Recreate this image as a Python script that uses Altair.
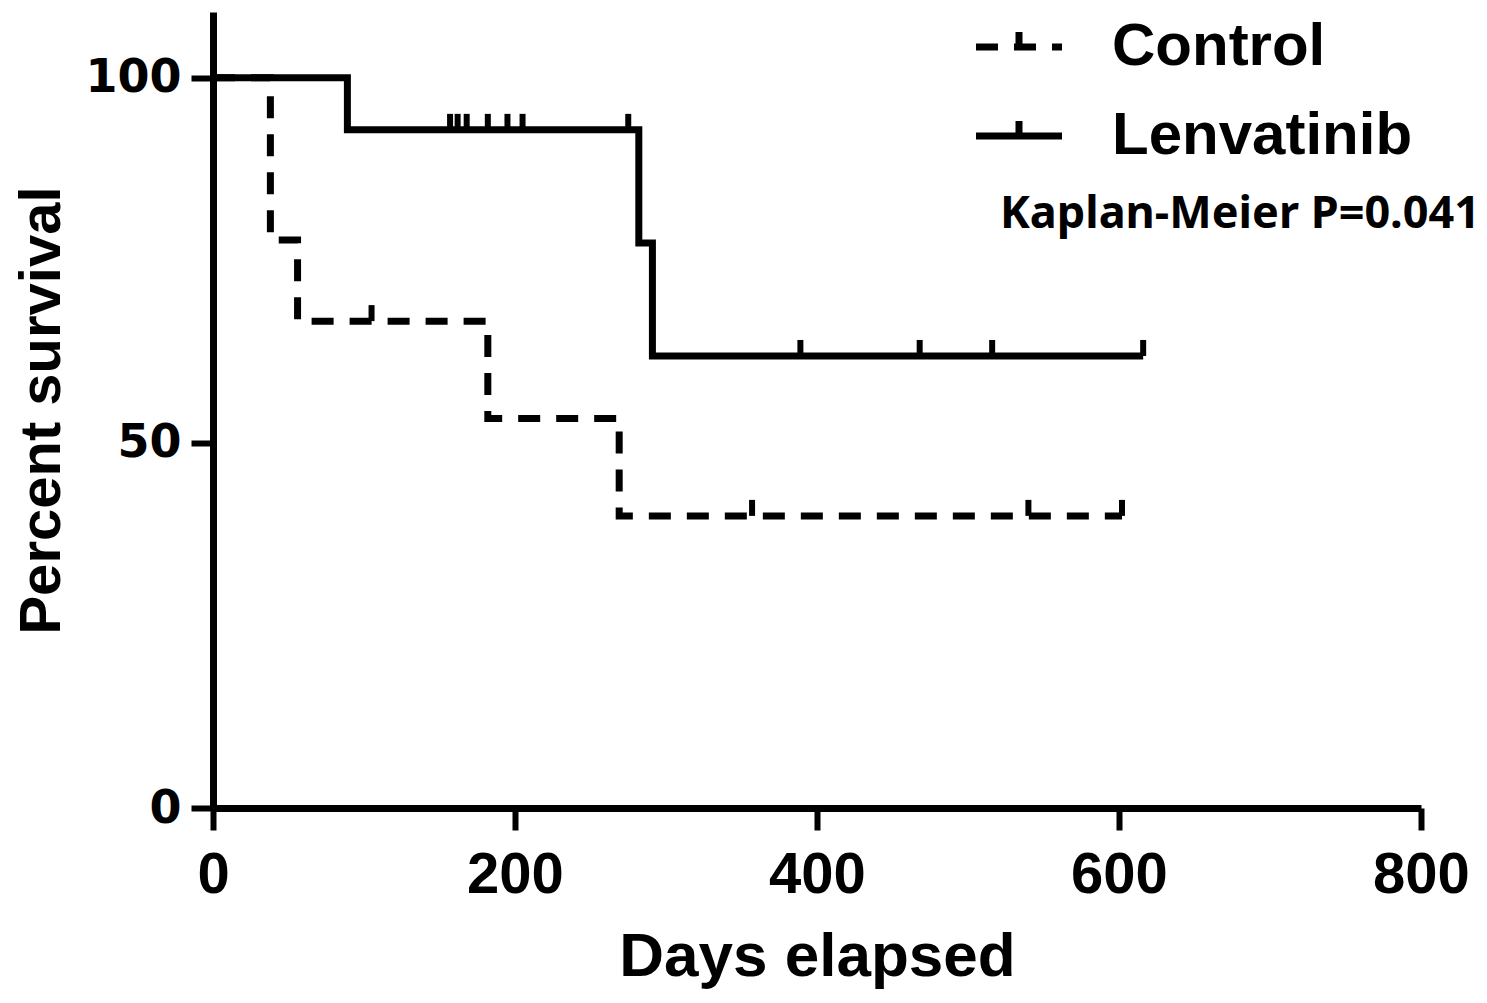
import altair as alt
import pandas as pd

groups = ["Control", "Lenvatinib"]

# Kaplan-Meier step curves
ctrl_step_days = [0, 38, 56, 182, 269, 602]
ctrl_step_surv = [100, 77.78, 66.67, 53.33, 40.0, 40.0]
ctrl_censor_days = [105, 357, 540, 602]
ctrl_censor_surv = [66.67, 40.0, 40.0, 40.0]

lenv_step_days = [0, 89, 282, 291, 616]
lenv_step_surv = [100, 92.86, 77.38, 61.90, 61.90]
lenv_censor_days = [157, 162, 168, 182, 195, 205, 275, 389, 468, 516, 616]
lenv_censor_surv = [92.86, 92.86, 92.86, 92.86, 92.86, 92.86, 92.86, 61.90, 61.90, 61.90, 61.90]

x_ticks = [0, 200, 400, 600, 800]
y_ticks = [0, 50, 100]
note = "Kaplan-Meier P=0.041"

line_df = pd.concat([
    pd.DataFrame({"day": ctrl_step_days, "surv": ctrl_step_surv, "group": "Control"}),
    pd.DataFrame({"day": lenv_step_days, "surv": lenv_step_surv, "group": "Lenvatinib"}),
])
cens_df = pd.concat([
    pd.DataFrame({"day": ctrl_censor_days, "surv": ctrl_censor_surv, "group": "Control"}),
    pd.DataFrame({"day": lenv_censor_days, "surv": lenv_censor_surv, "group": "Lenvatinib"}),
])

xs = alt.Scale(domain=[0, 800], nice=False)
ys = alt.Scale(domain=[0, 109], nice=False)

line = alt.Chart(line_df).mark_line(
    interpolate="step-after", strokeWidth=7, color="black", strokeCap="butt"
).encode(
    x=alt.X("day:Q", scale=xs, axis=alt.Axis(values=x_ticks, title="Days elapsed")),
    y=alt.Y("surv:Q", scale=ys, axis=alt.Axis(values=y_ticks, title="Percent survival")),
    strokeDash=alt.StrokeDash(
        "group:N",
        scale=alt.Scale(domain=groups, range=[[22, 16], [1, 0]]),
        legend=alt.Legend(
            title=None, orient="none", legendX=759, legendY=-12,
            symbolType="M-1,0H1M0,0V-0.35", symbolSize=7400,
            symbolStrokeWidth=7, symbolStrokeColor="black", symbolFillColor="transparent",
            labelFontSize=60, labelFont="Liberation Sans", labelFontWeight="bold",
            labelColor="black", labelOffset=46, rowPadding=12, labelLimit=0,
        ),
    ),
)

ticks = alt.Chart(cens_df).mark_tick(
    orient="vertical", size=16, thickness=6, color="black", yOffset=-8, opacity=1
).encode(
    x=alt.X("day:Q", scale=xs),
    y=alt.Y("surv:Q", scale=ys),
)

txt = alt.Chart(pd.DataFrame({"t": [note]})).mark_text(
    align="right", baseline="middle", font="Noto Sans", fontWeight="bold",
    fontSize=45, color="black"
).encode(x=alt.value(1267), y=alt.value(202), text="t:N")

chart = alt.layer(line, ticks, txt).properties(
    width=1208, height=796,
    padding={"left": 205, "top": 4, "right": 58, "bottom": 187},
    autosize="none",
).configure_view(stroke=None).configure_axis(
    domainColor="black", domainWidth=7, tickColor="black", tickWidth=6, tickSize=22,
    labelColor="black", titleColor="black", grid=False, labelFlush=False,
).configure_axisX(
    labelFont="Liberation Sans", labelFontSize=58, labelFontWeight="bold", labelPadding=16,
    titleFont="Liberation Sans", titleFontSize=62, titleFontWeight="bold", titlePadding=22,
).configure_axisY(
    labelFont="DejaVu Sans", labelFontSize=46, labelFontWeight="bold", labelPadding=10,
    titleFont="Liberation Sans", titleFontSize=58, titleFontWeight="bold", titlePadding=13,
)

chart.save("out.html", embed_options={"renderer": "svg", "actions": False})
